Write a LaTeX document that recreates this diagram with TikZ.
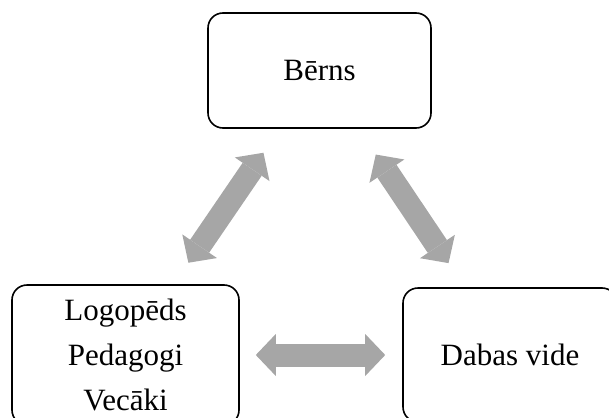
\documentclass[tikz,border=0pt]{standalone}
\usepackage{fontspec}
\setmainfont{Liberation Serif}
\usetikzlibrary{arrows.meta}

\definecolor{arrowgray}{RGB}{166,166,166}

\begin{document}
\begin{tikzpicture}[x=1pt, y=-1pt,
    box/.style={draw, line width=1.6pt, rounded corners=15pt, align=center,
      font=\fontsize{31}{45}\selectfont},
    dblarrow/.style={draw=arrowgray, line width=23pt,
      {Triangle[length=20pt,width=42pt,line width=0pt]}-{Triangle[length=20pt,width=42pt,line width=0pt]}}
  ]

  % Fix the page size
  \useasboundingbox (0,0) rectangle (609,417);
  \clip (0,0) rectangle (609,417);

  % Define boxes
  \node[box, minimum width=223pt, minimum height=115pt] (berns) at (319.5,70.5) {Bērns};
  \node[box, minimum width=227pt, minimum height=140pt] (logoped) at (125.5,355) {Logopēds\\Pedagogi\\Vecāki};
  \node[box, minimum width=214pt, minimum height=134pt] (daba) at (510,355) {Dabas vide};

  % Draw arrows between boxes
  \draw[dblarrow, shorten <=26pt, shorten >=29pt] (logoped) -- (berns);
  \draw[dblarrow, shorten <=29pt, shorten >=31pt] (daba) -- (berns);
  \draw[dblarrow, shorten <=16pt, shorten >=17pt] (logoped) -- (daba);

\end{tikzpicture}
\end{document}
